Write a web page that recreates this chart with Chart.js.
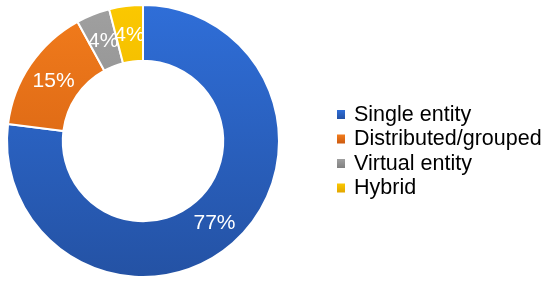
<!DOCTYPE html>
<html>
<head>
<meta charset="utf-8">
<script src="https://cdn.jsdelivr.net/npm/chart.js@4"></script>
<style>
  html, body { margin: 0; padding: 0; background: #fff; }
  #wrap { position: relative; width: 550px; height: 282px; }
</style>
</head>
<body>
<div id="wrap"><canvas id="chart" width="550" height="282"></canvas></div>
<script>
// ── Data ──
const categories = ["Single entity", "Distributed/grouped", "Virtual entity", "Hybrid"];
const shares = [77, 15, 4, 4];
const topColors = ["#2f6ed8", "#f27c1c", "#a0a0a0", "#fbc800"];
const bottomColors = ["#2452a4", "#cc5a10", "#808080", "#e2a600"];

// vertical gradient per slice, lighter on top
function sliceFill(ctx) {
  const chart = ctx.chart;
  const area = chart.chartArea;
  if (!area) return topColors[ctx.dataIndex];
  const g = chart.ctx.createLinearGradient(0, area.top, 0, area.bottom);
  g.addColorStop(0, topColors[ctx.dataIndex]);
  g.addColorStop(1, bottomColors[ctx.dataIndex]);
  return g;
}

// ── Percent labels inside the ring ──
const ringLabels = {
  id: "ringLabels",
  afterDatasetsDraw(chart) {
    const { ctx } = chart;
    const meta = chart.getDatasetMeta(0);
    ctx.save();
    ctx.fillStyle = "#ffffff";
    ctx.font = "21px 'Liberation Sans', Arial, sans-serif";
    ctx.textAlign = "center";
    ctx.textBaseline = "middle";
    meta.data.forEach((arc, i) => {
      const p = arc.tooltipPosition();
      ctx.fillText(shares[i] + "%", p.x, p.y + 1);
    });
    ctx.restore();
  },
};

// ── Legend on the right, drawn on the canvas ──
const sideLegend = {
  id: "sideLegend",
  afterDraw(chart) {
    const { ctx } = chart;
    ctx.save();
    ctx.font = "21.5px 'Liberation Sans', Arial, sans-serif";
    ctx.textBaseline = "middle";
    categories.forEach((name, i) => {
      const y = 114 + i * 24.5;
      const g = ctx.createLinearGradient(0, y - 4, 0, y + 5);
      g.addColorStop(0, topColors[i]);
      g.addColorStop(1, bottomColors[i]);
      ctx.fillStyle = g;
      ctx.fillRect(337, y - 4, 8, 9);
      ctx.fillStyle = "#000";
      ctx.fillText(name, 354, y + 1);
    });
    ctx.restore();
  },
};

new Chart(document.getElementById("chart"), {
  type: "doughnut",
  data: {
    labels: categories,
    datasets: [
      {
        data: shares,
        backgroundColor: sliceFill,
        borderColor: "#ffffff",
        borderWidth: 2,
      },
    ],
  },
  options: {
    responsive: false,
    animation: false,
    cutout: "59%",
    layout: { padding: { left: 4, top: 4, bottom: 4, right: 268 } },
    plugins: {
      legend: { display: false },
      tooltip: { enabled: false },
    },
  },
  plugins: [ringLabels, sideLegend],
});
</script>
</body>
</html>
